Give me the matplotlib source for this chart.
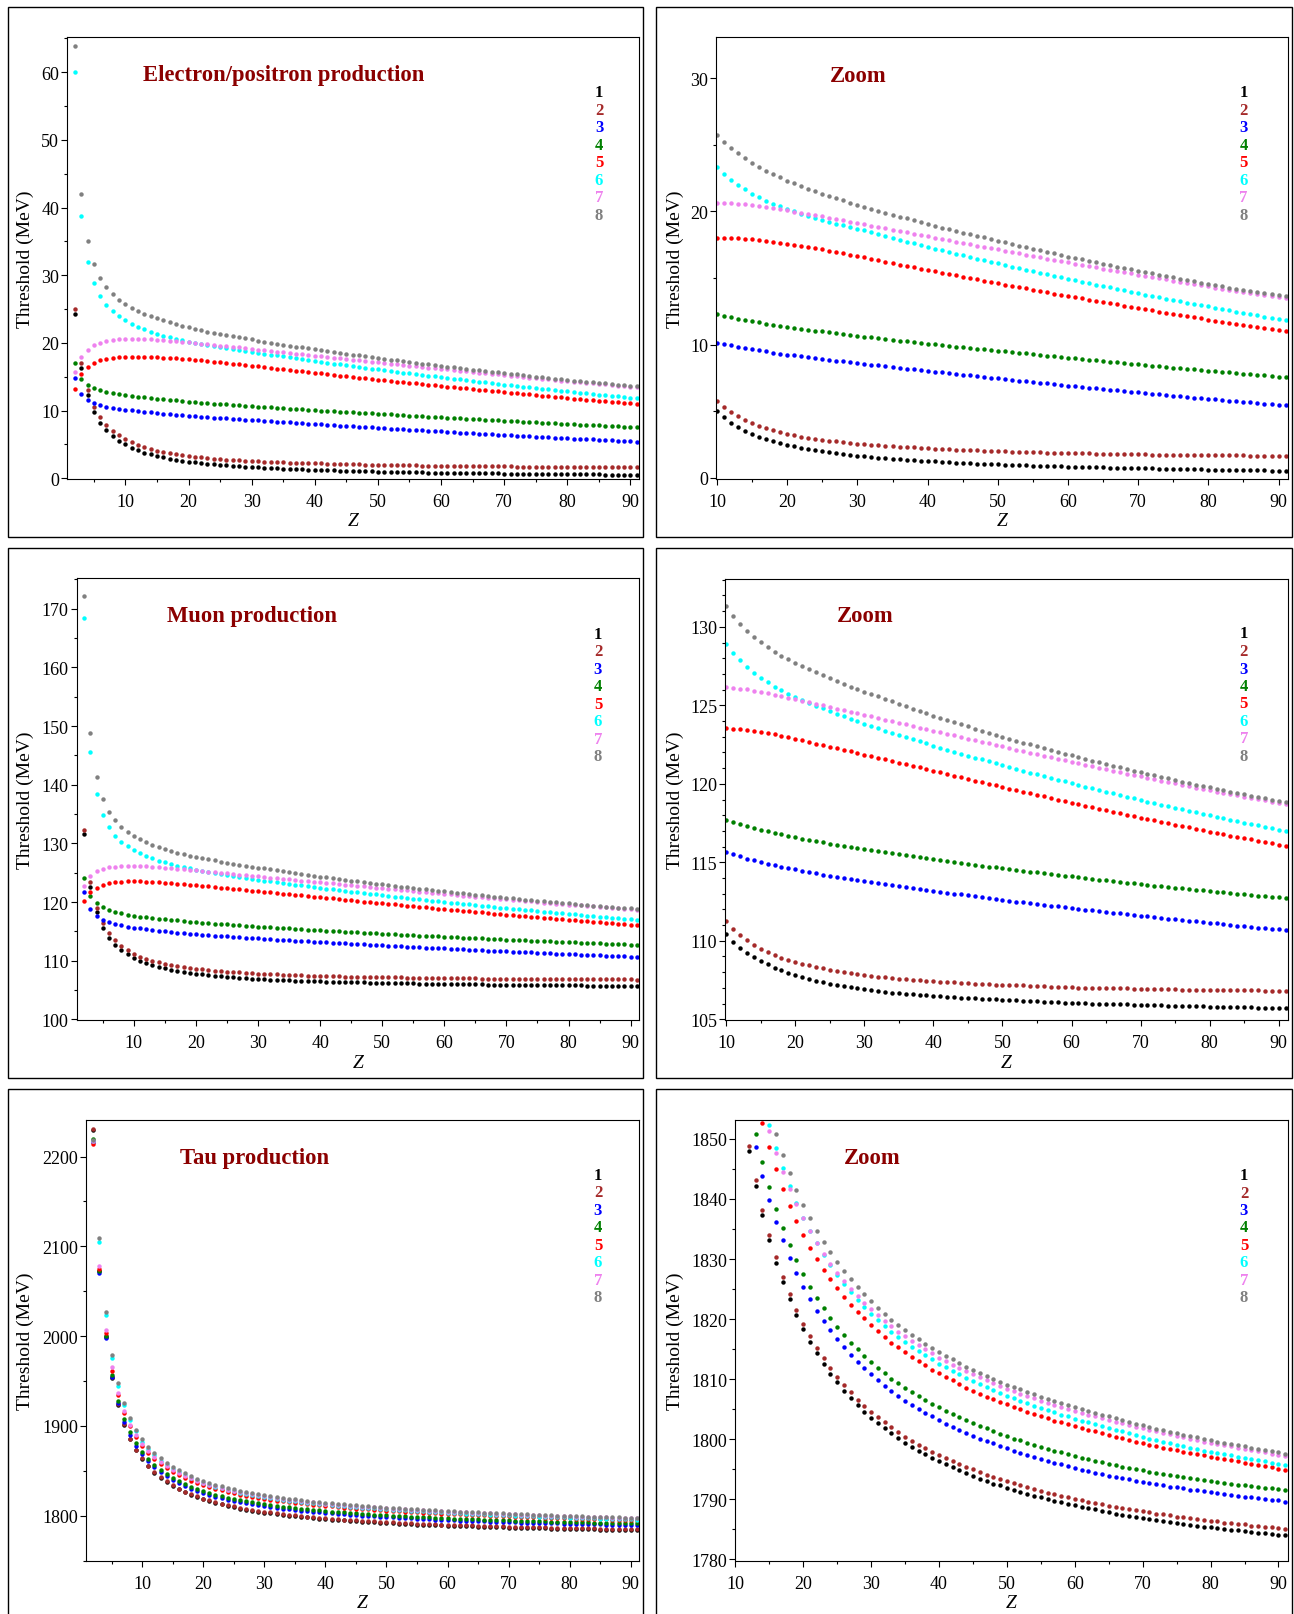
import matplotlib
matplotlib.use("Agg")
import matplotlib.pyplot as plt
from matplotlib.patches import Rectangle
from matplotlib.ticker import MultipleLocator

plt.rcParams['font.family'] = ['Liberation Serif', 'DejaVu Serif']

W, H = 1294, 1615

# one point per element, Z = 2 .. 91
z = list(range(2, 92))

# ---- electron/positron production threshold (MeV), curves 1..8
e1 = [24.30, 16.25, 12.30, 9.85, 8.20, 7.10, 6.30, 5.55, 5.00, 4.52,
      4.12, 3.81, 3.54, 3.30, 3.09, 2.91, 2.75, 2.60, 2.47, 2.35,
      2.25, 2.15, 2.06, 1.98, 1.91, 1.84, 1.77, 1.71, 1.66, 1.61,
      1.56, 1.51, 1.47, 1.43, 1.39, 1.35, 1.31, 1.28, 1.25, 1.22,
      1.19, 1.16, 1.13, 1.10, 1.08, 1.05, 1.03, 1.01, 0.99, 0.97,
      0.95, 0.94, 0.92, 0.90, 0.89, 0.87, 0.86, 0.84, 0.83, 0.82,
      0.80, 0.79, 0.78, 0.77, 0.76, 0.74, 0.73, 0.72, 0.71, 0.70,
      0.69, 0.68, 0.67, 0.66, 0.65, 0.64, 0.63, 0.62, 0.61, 0.60,
      0.59, 0.58, 0.58, 0.57, 0.56, 0.55, 0.54, 0.53, 0.52, 0.51]
e2 = [25.00, 17.00, 13.00, 10.60, 9.00, 7.90, 7.05, 6.35, 5.78, 5.30,
      4.90, 4.60, 4.33, 4.10, 3.89, 3.71, 3.56, 3.42, 3.30, 3.19,
      3.09, 3.00, 2.92, 2.85, 2.78, 2.72, 2.66, 2.61, 2.56, 2.52,
      2.48, 2.44, 2.40, 2.37, 2.33, 2.30, 2.27, 2.24, 2.21, 2.19,
      2.16, 2.14, 2.11, 2.09, 2.07, 2.05, 2.03, 2.01, 1.99, 1.97,
      1.96, 1.94, 1.93, 1.91, 1.90, 1.89, 1.88, 1.86, 1.85, 1.84,
      1.83, 1.82, 1.81, 1.80, 1.79, 1.78, 1.77, 1.77, 1.76, 1.75,
      1.74, 1.74, 1.73, 1.72, 1.72, 1.71, 1.70, 1.70, 1.69, 1.69,
      1.68, 1.68, 1.67, 1.67, 1.66, 1.66, 1.65, 1.65, 1.64, 1.64]
e3 = [14.76, 12.45, 11.60, 11.10, 10.80, 10.60, 10.45, 10.30, 10.15, 10.04,
      9.93, 9.83, 9.73, 9.64, 9.56, 9.48, 9.40, 9.32, 9.25, 9.18,
      9.11, 9.05, 8.98, 8.92, 8.86, 8.80, 8.74, 8.68, 8.62, 8.56,
      8.50, 8.44, 8.38, 8.32, 8.26, 8.20, 8.14, 8.08, 8.02, 7.96,
      7.90, 7.85, 7.79, 7.73, 7.68, 7.62, 7.57, 7.51, 7.46, 7.40,
      7.35, 7.29, 7.24, 7.18, 7.13, 7.08, 7.02, 6.97, 6.92, 6.86,
      6.81, 6.76, 6.71, 6.66, 6.61, 6.56, 6.51, 6.46, 6.41, 6.36,
      6.31, 6.26, 6.21, 6.16, 6.12, 6.07, 6.02, 5.97, 5.93, 5.88,
      5.84, 5.79, 5.75, 5.70, 5.66, 5.62, 5.57, 5.53, 5.49, 5.44]
e4 = [17.00, 14.67, 13.80, 13.30, 13.00, 12.75, 12.57, 12.42, 12.28, 12.16,
      12.05, 11.95, 11.85, 11.76, 11.67, 11.58, 11.50, 11.42, 11.34, 11.26,
      11.19, 11.12, 11.05, 10.98, 10.91, 10.84, 10.78, 10.72, 10.66, 10.60,
      10.54, 10.48, 10.42, 10.36, 10.30, 10.24, 10.18, 10.12, 10.06, 10.01,
      9.96, 9.91, 9.85, 9.80, 9.75, 9.70, 9.65, 9.60, 9.55, 9.50,
      9.45, 9.39, 9.34, 9.28, 9.23, 9.17, 9.12, 9.06, 9.01, 8.96,
      8.91, 8.86, 8.81, 8.76, 8.71, 8.66, 8.61, 8.56, 8.51, 8.46,
      8.41, 8.36, 8.31, 8.27, 8.22, 8.17, 8.13, 8.08, 8.04, 7.99,
      7.95, 7.90, 7.86, 7.81, 7.77, 7.72, 7.68, 7.63, 7.59, 7.54]
e5 = [13.20, 15.35, 16.40, 17.00, 17.45, 17.68, 17.83, 17.92, 17.97, 17.99,
      17.99, 17.97, 17.94, 17.90, 17.85, 17.79, 17.72, 17.65, 17.57, 17.49,
      17.41, 17.32, 17.23, 17.14, 17.04, 16.94, 16.84, 16.74, 16.64, 16.54,
      16.43, 16.33, 16.22, 16.12, 16.01, 15.91, 15.80, 15.70, 15.59, 15.49,
      15.39, 15.29, 15.19, 15.09, 14.99, 14.89, 14.79, 14.69, 14.59, 14.49,
      14.40, 14.30, 14.21, 14.11, 14.02, 13.92, 13.83, 13.74, 13.65, 13.56,
      13.47, 13.38, 13.29, 13.20, 13.11, 13.02, 12.93, 12.84, 12.75, 12.66,
      12.57, 12.48, 12.39, 12.31, 12.22, 12.13, 12.05, 11.96, 11.88, 11.79,
      11.71, 11.63, 11.54, 11.46, 11.38, 11.30, 11.22, 11.14, 11.06, 10.98]
e6 = [60.10, 38.70, 32.00, 28.80, 26.90, 25.60, 24.65, 23.95, 23.35, 22.82,
      22.38, 21.99, 21.65, 21.34, 21.06, 20.81, 20.58, 20.37, 20.18, 20.00,
      19.83, 19.67, 19.52, 19.37, 19.23, 19.09, 18.96, 18.83, 18.70, 18.57,
      18.43, 18.29, 18.15, 18.01, 17.87, 17.73, 17.60, 17.47, 17.34, 17.21,
      17.08, 16.95, 16.83, 16.70, 16.58, 16.45, 16.33, 16.21, 16.09, 15.97,
      15.85, 15.74, 15.62, 15.51, 15.39, 15.28, 15.16, 15.05, 14.94, 14.83,
      14.72, 14.61, 14.50, 14.39, 14.29, 14.18, 14.07, 13.96, 13.86, 13.75,
      13.65, 13.55, 13.45, 13.35, 13.25, 13.15, 13.05, 12.96, 12.86, 12.76,
      12.67, 12.57, 12.48, 12.38, 12.29, 12.19, 12.10, 12.00, 11.91, 11.82]
e7 = [15.75, 17.90, 19.00, 19.65, 20.05, 20.35, 20.50, 20.57, 20.60, 20.61,
      20.60, 20.57, 20.53, 20.47, 20.40, 20.33, 20.25, 20.17, 20.08, 19.99,
      19.90, 19.81, 19.72, 19.62, 19.53, 19.43, 19.33, 19.23, 19.13, 19.03,
      18.93, 18.83, 18.73, 18.63, 18.53, 18.43, 18.33, 18.23, 18.13, 18.03,
      17.93, 17.83, 17.73, 17.63, 17.53, 17.43, 17.33, 17.23, 17.14, 17.04,
      16.94, 16.85, 16.75, 16.65, 16.56, 16.46, 16.37, 16.27, 16.18, 16.08,
      15.99, 15.89, 15.80, 15.71, 15.61, 15.52, 15.43, 15.34, 15.25, 15.16,
      15.07, 14.98, 14.89, 14.80, 14.71, 14.62, 14.54, 14.45, 14.37, 14.28,
      14.20, 14.12, 14.03, 13.95, 13.87, 13.79, 13.71, 13.63, 13.55, 13.47]
e8 = [63.90, 42.00, 35.00, 31.60, 29.60, 28.20, 27.20, 26.40, 25.75, 25.22,
      24.76, 24.35, 23.98, 23.65, 23.34, 23.06, 22.80, 22.55, 22.32, 22.10,
      21.89, 21.69, 21.50, 21.32, 21.15, 20.98, 20.82, 20.66, 20.51, 20.36,
      20.21, 20.06, 19.91, 19.76, 19.61, 19.47, 19.33, 19.19, 19.05, 18.92,
      18.79, 18.66, 18.54, 18.41, 18.29, 18.16, 18.04, 17.91, 17.79, 17.67,
      17.55, 17.43, 17.31, 17.19, 17.07, 16.95, 16.84, 16.72, 16.61, 16.50,
      16.39, 16.28, 16.17, 16.06, 15.96, 15.85, 15.75, 15.64, 15.54, 15.44,
      15.34, 15.24, 15.14, 15.04, 14.94, 14.84, 14.74, 14.64, 14.54, 14.45,
      14.36, 14.27, 14.18, 14.10, 14.01, 13.93, 13.85, 13.77, 13.69, 13.61]

# ---- muon production threshold (MeV)
m1 = [131.53, 122.61, 118.30, 115.63, 113.92, 112.73, 111.76, 111.08, 110.45, 109.94,
      109.56, 109.24, 108.96, 108.71, 108.49, 108.29, 108.11, 107.95, 107.80, 107.67,
      107.55, 107.44, 107.34, 107.25, 107.17, 107.10, 107.03, 106.96, 106.90, 106.85,
      106.80, 106.75, 106.70, 106.66, 106.62, 106.58, 106.55, 106.52, 106.49, 106.46,
      106.43, 106.40, 106.37, 106.35, 106.32, 106.30, 106.28, 106.26, 106.24, 106.22,
      106.20, 106.18, 106.16, 106.14, 106.12, 106.10, 106.08, 106.06, 106.04, 106.03,
      106.01, 106.00, 105.99, 105.97, 105.96, 105.95, 105.94, 105.92, 105.91, 105.90,
      105.89, 105.88, 105.87, 105.86, 105.85, 105.84, 105.83, 105.82, 105.81, 105.80,
      105.79, 105.78, 105.77, 105.76, 105.75, 105.74, 105.73, 105.72, 105.71, 105.70]
m2 = [132.27, 123.40, 119.05, 116.40, 114.70, 113.51, 112.55, 111.86, 111.23, 110.72,
      110.34, 110.02, 109.75, 109.50, 109.29, 109.10, 108.93, 108.78, 108.66, 108.54,
      108.43, 108.33, 108.24, 108.15, 108.08, 108.01, 107.94, 107.87, 107.80, 107.75,
      107.70, 107.66, 107.61, 107.57, 107.54, 107.50, 107.47, 107.44, 107.42, 107.39,
      107.36, 107.34, 107.31, 107.29, 107.27, 107.25, 107.23, 107.21, 107.20, 107.18,
      107.17, 107.15, 107.13, 107.11, 107.10, 107.08, 107.06, 107.05, 107.03, 107.02,
      107.01, 107.00, 106.99, 106.98, 106.97, 106.96, 106.96, 106.94, 106.93, 106.92,
      106.92, 106.91, 106.90, 106.90, 106.89, 106.88, 106.88, 106.87, 106.87, 106.86,
      106.85, 106.85, 106.84, 106.84, 106.83, 106.83, 106.82, 106.82, 106.81, 106.80]
m3 = [121.76, 118.81, 117.56, 116.93, 116.53, 116.25, 116.02, 115.83, 115.65, 115.50,
      115.37, 115.24, 115.12, 115.01, 114.90, 114.80, 114.71, 114.62, 114.54, 114.46,
      114.38, 114.30, 114.22, 114.15, 114.08, 114.01, 113.94, 113.87, 113.80, 113.73,
      113.67, 113.61, 113.55, 113.49, 113.43, 113.37, 113.31, 113.25, 113.19, 113.13,
      113.07, 113.01, 112.95, 112.89, 112.83, 112.78, 112.72, 112.67, 112.61, 112.56,
      112.50, 112.45, 112.40, 112.34, 112.29, 112.24, 112.19, 112.14, 112.09, 112.04,
      111.99, 111.94, 111.89, 111.84, 111.79, 111.74, 111.69, 111.65, 111.60, 111.55,
      111.50, 111.46, 111.41, 111.37, 111.32, 111.28, 111.23, 111.19, 111.14, 111.10,
      111.06, 111.01, 110.97, 110.93, 110.89, 110.84, 110.80, 110.76, 110.72, 110.68]
m4 = [124.03, 121.02, 119.83, 119.09, 118.64, 118.30, 118.06, 117.86, 117.68, 117.54,
      117.41, 117.29, 117.18, 117.07, 116.97, 116.87, 116.78, 116.69, 116.60, 116.51,
      116.43, 116.35, 116.27, 116.19, 116.12, 116.04, 115.97, 115.90, 115.83, 115.76,
      115.69, 115.63, 115.56, 115.50, 115.44, 115.37, 115.31, 115.25, 115.19, 115.13,
      115.07, 115.01, 114.95, 114.90, 114.84, 114.78, 114.73, 114.67, 114.62, 114.56,
      114.51, 114.46, 114.40, 114.35, 114.30, 114.25, 114.20, 114.15, 114.10, 114.05,
      114.00, 113.95, 113.90, 113.85, 113.80, 113.75, 113.71, 113.66, 113.61, 113.57,
      113.52, 113.48, 113.43, 113.39, 113.34, 113.30, 113.26, 113.21, 113.17, 113.13,
      113.09, 113.05, 113.00, 112.96, 112.92, 112.88, 112.84, 112.80, 112.76, 112.72]
m5 = [120.11, 121.70, 122.44, 122.95, 123.25, 123.42, 123.50, 123.53, 123.53, 123.52,
      123.49, 123.45, 123.39, 123.32, 123.24, 123.15, 123.06, 122.96, 122.86, 122.76,
      122.66, 122.56, 122.46, 122.36, 122.26, 122.16, 122.06, 121.96, 121.86, 121.76,
      121.66, 121.55, 121.45, 121.35, 121.24, 121.14, 121.04, 120.93, 120.83, 120.73,
      120.62, 120.52, 120.41, 120.31, 120.21, 120.10, 120.00, 119.90, 119.80, 119.70,
      119.60, 119.50, 119.40, 119.30, 119.20, 119.10, 119.00, 118.90, 118.80, 118.70,
      118.61, 118.51, 118.42, 118.32, 118.23, 118.13, 118.04, 117.95, 117.85, 117.76,
      117.67, 117.58, 117.49, 117.40, 117.31, 117.22, 117.13, 117.04, 116.95, 116.87,
      116.79, 116.70, 116.62, 116.54, 116.46, 116.38, 116.29, 116.21, 116.13, 116.05]
m6 = [168.35, 145.51, 138.35, 134.77, 132.73, 131.31, 130.28, 129.55, 128.90, 128.35,
      127.88, 127.46, 127.09, 126.76, 126.46, 126.19, 125.95, 125.73, 125.53, 125.34,
      125.16, 124.98, 124.80, 124.63, 124.46, 124.30, 124.14, 123.98, 123.83, 123.68,
      123.53, 123.39, 123.25, 123.11, 122.97, 122.83, 122.70, 122.57, 122.44, 122.31,
      122.18, 122.05, 121.92, 121.80, 121.67, 121.55, 121.43, 121.31, 121.19, 121.07,
      120.95, 120.83, 120.72, 120.60, 120.49, 120.37, 120.26, 120.15, 120.04, 119.93,
      119.82, 119.71, 119.60, 119.49, 119.39, 119.28, 119.18, 119.07, 118.97, 118.87,
      118.77, 118.67, 118.57, 118.47, 118.37, 118.27, 118.18, 118.08, 117.99, 117.89,
      117.80, 117.71, 117.62, 117.53, 117.44, 117.35, 117.26, 117.17, 117.08, 117.00]
m7 = [122.73, 124.38, 125.30, 125.70, 125.92, 126.05, 126.12, 126.15, 126.15, 126.12,
      126.07, 126.01, 125.94, 125.86, 125.77, 125.68, 125.59, 125.49, 125.39, 125.29,
      125.19, 125.09, 124.99, 124.89, 124.79, 124.69, 124.59, 124.49, 124.39, 124.29,
      124.19, 124.09, 123.99, 123.88, 123.78, 123.68, 123.58, 123.48, 123.38, 123.28,
      123.18, 123.08, 122.98, 122.88, 122.78, 122.68, 122.58, 122.48, 122.38, 122.28,
      122.18, 122.08, 121.98, 121.88, 121.79, 121.69, 121.59, 121.50, 121.40, 121.31,
      121.21, 121.12, 121.02, 120.93, 120.84, 120.74, 120.65, 120.56, 120.47, 120.38,
      120.29, 120.20, 120.11, 120.02, 119.93, 119.85, 119.76, 119.67, 119.59, 119.50,
      119.42, 119.34, 119.26, 119.18, 119.10, 119.02, 118.94, 118.86, 118.78, 118.70]
m8 = [172.20, 148.80, 141.30, 137.60, 135.40, 133.92, 132.84, 132.00, 131.30, 130.70,
      130.20, 129.76, 129.37, 129.02, 128.71, 128.43, 128.17, 127.93, 127.71, 127.50,
      127.30, 127.10, 126.91, 126.72, 126.54, 126.37, 126.20, 126.04, 125.88, 125.73,
      125.57, 125.41, 125.25, 125.09, 124.94, 124.79, 124.64, 124.49, 124.35, 124.21,
      124.07, 123.93, 123.79, 123.66, 123.52, 123.39, 123.26, 123.13, 123.00, 122.87,
      122.75, 122.63, 122.51, 122.39, 122.27, 122.15, 122.03, 121.92, 121.81, 121.70,
      121.59, 121.48, 121.37, 121.26, 121.15, 121.05, 120.94, 120.84, 120.74, 120.64,
      120.54, 120.44, 120.34, 120.24, 120.14, 120.05, 119.95, 119.86, 119.77, 119.68,
      119.59, 119.50, 119.41, 119.33, 119.24, 119.16, 119.07, 118.99, 118.91, 118.83]

# ---- tau production threshold (MeV)
t1 = [2229.8, 2072.0, 1999.5, 1953.8, 1923.4, 1901.4, 1885.0, 1872.7, 1862.9, 1854.9,
      1848.0, 1842.2, 1837.4, 1833.1, 1829.4, 1826.1, 1823.3, 1820.7, 1818.3, 1816.2,
      1814.3, 1812.6, 1810.9, 1809.5, 1808.1, 1806.8, 1805.7, 1804.6, 1803.6, 1802.7,
      1801.8, 1801.0, 1800.2, 1799.4, 1798.7, 1798.1, 1797.5, 1796.9, 1796.3, 1795.8,
      1795.3, 1794.8, 1794.3, 1793.9, 1793.4, 1793.0, 1792.6, 1792.3, 1791.9, 1791.6,
      1791.2, 1790.9, 1790.6, 1790.3, 1790.0, 1789.7, 1789.5, 1789.2, 1789.0, 1788.7,
      1788.5, 1788.3, 1788.1, 1787.8, 1787.6, 1787.4, 1787.2, 1787.1, 1786.9, 1786.7,
      1786.5, 1786.4, 1786.2, 1786.0, 1785.9, 1785.7, 1785.6, 1785.4, 1785.3, 1785.2,
      1785.0, 1784.9, 1784.8, 1784.7, 1784.5, 1784.4, 1784.3, 1784.2, 1784.1, 1784.0]
t2 = [2230.8, 2072.8, 2000.3, 1954.6, 1924.2, 1902.2, 1885.9, 1873.6, 1863.8, 1855.7,
      1848.8, 1843.1, 1838.2, 1834.0, 1830.3, 1827.0, 1824.1, 1821.5, 1819.2, 1817.1,
      1815.2, 1813.5, 1811.8, 1810.4, 1809.0, 1807.8, 1806.6, 1805.6, 1804.6, 1803.7,
      1802.8, 1802.0, 1801.2, 1800.4, 1799.7, 1799.1, 1798.5, 1797.9, 1797.3, 1796.8,
      1796.3, 1795.8, 1795.4, 1795.0, 1794.5, 1794.1, 1793.7, 1793.4, 1793.0, 1792.7,
      1792.3, 1792.0, 1791.7, 1791.4, 1791.1, 1790.8, 1790.6, 1790.3, 1790.1, 1789.8,
      1789.6, 1789.4, 1789.2, 1788.9, 1788.7, 1788.5, 1788.3, 1788.2, 1788.0, 1787.8,
      1787.6, 1787.5, 1787.3, 1787.1, 1787.0, 1786.8, 1786.7, 1786.5, 1786.4, 1786.3,
      1786.1, 1786.0, 1785.9, 1785.8, 1785.6, 1785.5, 1785.4, 1785.3, 1785.2, 1785.1]
t3 = [2216.7, 2070.8, 1998.0, 1955.0, 1925.2, 1904.8, 1889.9, 1877.7, 1868.3, 1860.6,
      1854.1, 1848.6, 1843.9, 1839.8, 1836.2, 1833.1, 1830.2, 1827.7, 1825.4, 1823.3,
      1821.4, 1819.7, 1818.1, 1816.7, 1815.3, 1814.1, 1812.9, 1811.8, 1810.8, 1809.8,
      1808.9, 1808.0, 1807.2, 1806.4, 1805.7, 1805.1, 1804.4, 1803.8, 1803.2, 1802.6,
      1802.1, 1801.6, 1801.1, 1800.6, 1800.1, 1799.7, 1799.3, 1798.9, 1798.5, 1798.1,
      1797.7, 1797.4, 1797.0, 1796.7, 1796.4, 1796.1, 1795.8, 1795.5, 1795.2, 1794.9,
      1794.7, 1794.4, 1794.2, 1793.9, 1793.7, 1793.5, 1793.3, 1793.1, 1792.9, 1792.7,
      1792.5, 1792.3, 1792.1, 1792.0, 1791.8, 1791.6, 1791.5, 1791.3, 1791.2, 1791.0,
      1790.9, 1790.7, 1790.6, 1790.4, 1790.3, 1790.2, 1790.0, 1789.9, 1789.8, 1789.6]
t4 = [2219.7, 2072.5, 2000.2, 1957.2, 1928.2, 1907.8, 1892.9, 1881.0, 1871.0, 1862.8,
      1856.3, 1850.8, 1846.1, 1842.0, 1838.4, 1835.2, 1832.3, 1829.8, 1827.5, 1825.4,
      1823.5, 1821.8, 1820.2, 1818.7, 1817.4, 1816.1, 1815.0, 1813.9, 1812.8, 1811.9,
      1811.0, 1810.1, 1809.3, 1808.6, 1807.9, 1807.2, 1806.5, 1805.9, 1805.3, 1804.7,
      1804.2, 1803.7, 1803.2, 1802.7, 1802.2, 1801.8, 1801.3, 1800.9, 1800.5, 1800.1,
      1799.8, 1799.4, 1799.0, 1798.7, 1798.4, 1798.1, 1797.8, 1797.5, 1797.2, 1796.9,
      1796.7, 1796.4, 1796.2, 1795.9, 1795.7, 1795.4, 1795.2, 1795.0, 1794.8, 1794.6,
      1794.4, 1794.2, 1794.0, 1793.9, 1793.7, 1793.5, 1793.3, 1793.2, 1793.0, 1792.9,
      1792.7, 1792.6, 1792.4, 1792.3, 1792.2, 1792.0, 1791.9, 1791.8, 1791.7, 1791.5]
t5 = [2214.5, 2074.9, 2003.6, 1961.6, 1934.1, 1914.1, 1899.5, 1887.5, 1877.5, 1869.4,
      1862.9, 1857.4, 1852.7, 1848.6, 1845.0, 1841.7, 1838.9, 1836.3, 1834.0, 1831.9,
      1830.0, 1828.2, 1826.6, 1825.1, 1823.7, 1822.4, 1821.2, 1820.1, 1819.0, 1818.0,
      1817.0, 1816.1, 1815.3, 1814.5, 1813.7, 1813.0, 1812.3, 1811.6, 1811.0, 1810.4,
      1809.8, 1809.2, 1808.6, 1808.1, 1807.6, 1807.1, 1806.7, 1806.2, 1805.8, 1805.4,
      1805.0, 1804.6, 1804.2, 1803.8, 1803.5, 1803.1, 1802.8, 1802.5, 1802.2, 1801.9,
      1801.6, 1801.3, 1801.0, 1800.7, 1800.4, 1800.2, 1799.9, 1799.6, 1799.4, 1799.1,
      1798.9, 1798.6, 1798.4, 1798.2, 1797.9, 1797.7, 1797.5, 1797.3, 1797.1, 1796.9,
      1796.7, 1796.5, 1796.3, 1796.1, 1795.9, 1795.7, 1795.5, 1795.3, 1795.1, 1794.9]
t6 = [2217.0, 2105.3, 2023.6, 1976.1, 1945.0, 1923.4, 1907.0, 1893.9, 1882.6, 1874.0,
      1867.2, 1861.5, 1856.6, 1852.3, 1848.5, 1845.1, 1842.1, 1839.3, 1836.9, 1834.7,
      1832.6, 1830.7, 1829.0, 1827.4, 1825.9, 1824.5, 1823.2, 1822.0, 1820.9, 1819.9,
      1818.9, 1817.9, 1817.0, 1816.2, 1815.4, 1814.7, 1814.0, 1813.3, 1812.6, 1812.0,
      1811.4, 1810.8, 1810.2, 1809.7, 1809.2, 1808.7, 1808.2, 1807.7, 1807.2, 1806.8,
      1806.4, 1806.0, 1805.6, 1805.2, 1804.8, 1804.5, 1804.1, 1803.8, 1803.4, 1803.1,
      1802.8, 1802.5, 1802.2, 1801.9, 1801.6, 1801.3, 1801.0, 1800.7, 1800.4, 1800.1,
      1799.8, 1799.6, 1799.3, 1799.1, 1798.8, 1798.6, 1798.4, 1798.1, 1797.9, 1797.7,
      1797.5, 1797.3, 1797.1, 1796.9, 1796.7, 1796.5, 1796.3, 1796.1, 1795.9, 1795.7]
t7 = [2217.8, 2077.8, 2007.3, 1965.3, 1936.7, 1916.3, 1901.5, 1889.5, 1879.6, 1872.0,
      1865.6, 1860.1, 1855.4, 1851.3, 1847.7, 1844.5, 1841.6, 1839.1, 1836.8, 1834.6,
      1832.7, 1830.9, 1829.2, 1827.7, 1826.3, 1825.0, 1823.8, 1822.7, 1821.6, 1820.6,
      1819.7, 1818.8, 1817.9, 1817.1, 1816.4, 1815.7, 1815.0, 1814.3, 1813.6, 1813.0,
      1812.4, 1811.9, 1811.3, 1810.8, 1810.3, 1809.8, 1809.3, 1808.9, 1808.4, 1808.0,
      1807.6, 1807.2, 1806.8, 1806.4, 1806.1, 1805.7, 1805.4, 1805.1, 1804.7, 1804.4,
      1804.1, 1803.8, 1803.5, 1803.2, 1802.9, 1802.7, 1802.4, 1802.1, 1801.8, 1801.6,
      1801.3, 1801.1, 1800.8, 1800.6, 1800.3, 1800.1, 1799.9, 1799.6, 1799.4, 1799.2,
      1799.0, 1798.8, 1798.6, 1798.4, 1798.2, 1798.0, 1797.8, 1797.6, 1797.4, 1797.2]
t8 = [2218.5, 2109.4, 2027.3, 1979.1, 1947.9, 1925.6, 1908.9, 1895.9, 1885.3, 1876.9,
      1870.0, 1864.1, 1859.0, 1854.6, 1850.8, 1847.4, 1844.3, 1841.5, 1839.0, 1836.8,
      1834.7, 1832.8, 1831.1, 1829.5, 1828.0, 1826.6, 1825.3, 1824.1, 1823.0, 1821.9,
      1820.9, 1819.9, 1819.0, 1818.2, 1817.4, 1816.6, 1815.9, 1815.2, 1814.5, 1813.9,
      1813.3, 1812.7, 1812.1, 1811.6, 1811.1, 1810.6, 1810.1, 1809.6, 1809.1, 1808.7,
      1808.3, 1807.9, 1807.5, 1807.1, 1806.7, 1806.4, 1806.0, 1805.7, 1805.3, 1805.0,
      1804.7, 1804.4, 1804.1, 1803.8, 1803.5, 1803.2, 1802.9, 1802.6, 1802.3, 1802.0,
      1801.7, 1801.5, 1801.2, 1801.0, 1800.7, 1800.5, 1800.3, 1800.0, 1799.8, 1799.6,
      1799.4, 1799.2, 1799.0, 1798.8, 1798.6, 1798.4, 1798.2, 1798.0, 1797.8, 1797.6]

curve_names = ['1', '2', '3', '4', '5', '6', '7', '8']
colors = ['#000000', '#a52a2a', '#0000ff', '#008000',
          '#ff0000', '#00ffff', '#ee82ee', '#808080']

electron = [e1, e2, e3, e4, e5, e6, e7, e8]
muon = [m1, m2, m3, m4, m5, m6, m7, m8]
tau = [t1, t2, t3, t4, t5, t6, t7, t8]

fig = plt.figure(figsize=(W / 100, H / 100), dpi=100)


def fx(x):
    return x / W


def fy(y):
    return 1 - y / H


# outer boxes around every panel
for top in (8, 549, 1090):
    for left, right in ((8, 643), (656, 1292)):
        fig.add_artist(Rectangle((fx(left), fy(top + 530)), fx(right - left), 530 / H,
                                 transform=fig.transFigure, fill=False,
                                 ec='black', lw=1.0))


def panel(box, curves, xlim, ylim, ymaj, ymin, title, title_pos, leg_pos, ylab_x):
    l, t, r, b = box
    ax = fig.add_axes([fx(l), fy(b), (r - l) / W, (b - t) / H])
    for vals, c in zip(curves, colors):
        ax.plot(z, vals, linestyle='none', marker='o', ms=3.2, mew=0, color=c)
    ax.set_xlim(xlim)
    ax.set_ylim(ylim)
    ax.xaxis.set_major_locator(MultipleLocator(10))
    ax.xaxis.set_minor_locator(MultipleLocator(5))
    ax.yaxis.set_major_locator(MultipleLocator(ymaj))
    ax.yaxis.set_minor_locator(MultipleLocator(ymin))
    ax.tick_params(which='both', direction='out', top=False, right=False,
                   width=0.8, labelsize=13)
    ax.tick_params(which='major', length=4.3)
    ax.tick_params(which='minor', length=2.2)
    ax.tick_params(axis='x', pad=6)
    ax.tick_params(axis='y', pad=1.5)
    for s in ax.spines.values():
        s.set_linewidth(0.8)

    ax.set_xlabel('Z', fontsize=14, style='italic')
    ax.xaxis.set_label_coords(0.5, -42 / (b - t))
    ax.xaxis.label.set_verticalalignment('center')
    ax.set_ylabel('Threshold (MeV)', fontsize=14)
    ax.yaxis.set_label_coords((ylab_x - l) / (r - l), 0.5)
    ax.yaxis.label.set_verticalalignment('center')

    fig.text(fx(title_pos[0]), fy(title_pos[1]), title, ha='left', va='center',
             fontsize=16.3, fontweight='bold', color='#8b0000')
    for i, (name, c) in enumerate(zip(curve_names, colors)):
        fig.text(fx(leg_pos[0]), fy(leg_pos[1] + 17.5 * i), name, ha='center',
                 va='center', fontsize=12, fontweight='bold', color=c)
    return ax


panel((67.3, 38, 639, 480), electron, (0.8, 91.35), (-0.1, 65.2), 10, 5,
      'Electron/positron production', (143, 76), (599, 93.3), 25)
panel((716, 38, 1288, 480), electron, (9.85, 91.35), (-0.1, 33.1), 10, 5,
      'Zoom', (830, 76), (1243.5, 93.3), 675)

panel((76.7, 579.3, 639, 1021), muon, (0.8, 91.35), (99.9, 175.2), 10, 5,
      'Muon production', (167, 617), (598, 634.7), 25)
panel((725.2, 580, 1288, 1021), muon, (9.85, 91.35), (104.95, 133.05), 5, 1,
      'Zoom', (837, 617), (1243.8, 634.5), 675)

panel((86, 1120.7, 639, 1561.7), tau, (0.8, 91.35), (1750, 2241), 100, 50,
      'Tau production', (180, 1158.3), (598, 1175.8), 25)
panel((735, 1120.7, 1288, 1561.5), tau, (9.95, 91.4), (1779.8, 1853.2), 10, 5,
      'Zoom', (844, 1158.3), (1244, 1176), 675)

fig.savefig('out.png', dpi=100)
